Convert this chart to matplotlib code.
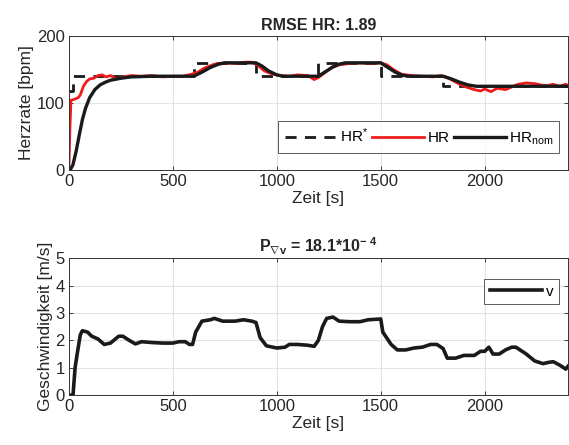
import matplotlib
matplotlib.use("Agg")
import matplotlib.pyplot as plt

# ── data ─────────────────────────────────────────────────────────────────────
# reference heart rate HR* (step levels)
t_ref  = [0, 20, 20, 600, 600, 900, 900, 1200, 1200, 1500, 1500, 1800, 1800, 2400]
hr_ref = [118, 118, 140, 140, 160, 160, 140, 140, 160, 160, 140, 140, 125, 125]

# nominal heart rate HR_nom
t_nom  = [0, 10, 20, 35, 50, 65, 80, 100, 125, 150, 175, 200, 250, 300, 400,
          600, 640, 680, 720, 750, 900, 930, 960, 1000, 1030, 1200, 1230,
          1270, 1300, 1330, 1500, 1530, 1570, 1600, 1630, 1800, 1840, 1880,
          1920, 1960, 2400]
hr_nom = [0, 2, 8, 28, 52, 75, 92, 108, 120, 127, 131, 134, 137, 139, 140,
          140, 146, 153, 158, 160, 160, 155, 148, 142, 140, 140, 146,
          154, 158, 160, 160, 154, 146, 142, 140, 140, 136, 131,
          127, 125, 125]

# measured heart rate HR
t_hr = [0, 5, 10, 20, 30, 45, 55, 70, 85, 100, 120, 140, 160, 180, 200, 230,
        260, 300, 350, 400, 450, 500, 550, 590, 620, 650, 700, 750, 800, 850,
        880, 910, 940, 980, 1020, 1060, 1100, 1150, 1180, 1200, 1230, 1260,
        1300, 1350, 1400, 1450, 1500, 1530, 1560, 1600, 1650, 1700, 1750,
        1790, 1820, 1850, 1880, 1910, 1950, 1980, 2000, 2030, 2060, 2100,
        2130, 2160, 2200, 2240, 2270, 2300, 2330, 2360, 2390, 2400]
hr   = [0, 60, 104, 105, 106, 108, 112, 125, 132, 136, 137, 141, 142, 139,
        141, 136, 139, 141, 140, 141, 139, 140, 140, 143, 146, 152, 158, 160,
        159, 161, 161, 156, 148, 143, 141, 140, 142, 141, 135, 138, 145, 152,
        157, 159, 160, 159, 160, 157, 150, 143, 141, 140, 139, 141, 138,
        133, 128, 124, 120, 118, 121, 117, 122, 120, 124, 128, 130, 129,
        127, 126, 128, 125, 128, 126]

# running speed v
t_v = [0, 20, 30, 40, 55, 65, 90, 110, 140, 170, 200, 240, 260, 290, 320, 350,
       400, 450, 500, 530, 560, 580, 595, 610, 640, 680, 700, 740, 800, 840,
       880, 900, 920, 950, 1000, 1040, 1060, 1100, 1150, 1180, 1200, 1220,
       1240, 1270, 1300, 1350, 1400, 1440, 1500, 1510, 1550, 1580, 1620,
       1660, 1700, 1740, 1770, 1800, 1820, 1860, 1900, 1950, 1980, 2000,
       2020, 2040, 2070, 2100, 2130, 2150, 2200, 2240, 2280, 2310, 2330,
       2360, 2390, 2400]
v   = [0, 0, 1.0, 1.5, 2.2, 2.35, 2.3, 2.15, 2.05, 1.85, 1.9, 2.15, 2.15,
       2.0, 1.87, 1.95, 1.92, 1.9, 1.9, 1.95, 1.95, 1.85, 1.85, 2.3, 2.7,
       2.75, 2.8, 2.7, 2.7, 2.75, 2.7, 2.65, 2.1, 1.8, 1.72, 1.75, 1.85,
       1.85, 1.82, 1.78, 2.0, 2.5, 2.8, 2.85, 2.7, 2.68, 2.68, 2.75, 2.78,
       2.3, 1.85, 1.65, 1.65, 1.72, 1.75, 1.85, 1.85, 1.7, 1.35, 1.35, 1.45,
       1.45, 1.6, 1.6, 1.75, 1.5, 1.5, 1.65, 1.75, 1.75, 1.5, 1.25, 1.15,
       1.2, 1.22, 1.1, 0.95, 1.05]

x_ticks  = [0, 500, 1000, 1500, 2000]
hr_ticks = [0, 100, 200]
v_ticks  = [0, 1, 2, 3, 4, 5]

# ── style ────────────────────────────────────────────────────────────────────
plt.rcParams["font.family"] = ["Liberation Sans", "DejaVu Sans"]
plt.rcParams["mathtext.fontset"] = "custom"
plt.rcParams["mathtext.rm"] = "Liberation Sans"
plt.rcParams["mathtext.it"] = "Liberation Sans"
plt.rcParams["mathtext.bf"] = "Liberation Sans:bold"

GRID = "#e3e3e3"
TXT  = "#262626"


def style_axes(ax, yticks, ylim):
    ax.set_xlim(0, 2400)
    ax.set_ylim(*ylim)
    ax.set_xticks(x_ticks)
    ax.set_yticks(yticks)
    ax.tick_params(direction="in", top=True, right=True, labelsize=12,
                   colors=TXT, length=3, width=0.6, pad=3)
    ax.grid(True, color=GRID, lw=0.8)
    ax.set_axisbelow(True)
    for s in ax.spines.values():
        s.set_color("#333333"); s.set_linewidth(0.7)
    ax.set_xlabel("Zeit [s]", fontsize=12.5, color=TXT, labelpad=1)


fig = plt.figure(figsize=(5.69, 4.45), dpi=100)
ax1 = fig.add_axes([0.121, 0.618, 0.877, 0.301])
ax2 = fig.add_axes([0.121, 0.112, 0.877, 0.308])

# ── top: heart rate ──────────────────────────────────────────────────────────
l_ref, = ax1.plot(t_ref, hr_ref, color="#1a1a1a", lw=2, ls=(0, (4, 3)))
l_hr,  = ax1.plot(t_hr, hr, color="#ee1c1c", lw=2)
l_nom, = ax1.plot(t_nom, hr_nom, color="#1a1a1a", lw=2.4)
style_axes(ax1, hr_ticks, (0, 200))
ax1.set_ylabel("Herzrate [bpm]", fontsize=12.5, color=TXT, labelpad=2)
ax1.set_title("RMSE HR: 1.89", fontsize=11.5, fontweight="bold", color=TXT,
              pad=4)
leg = ax1.legend([l_ref, l_hr, l_nom], [r"HR$^{*}$", "HR", r"HR$_{\rm nom}$"],
                 ncol=3, loc="lower right", bbox_to_anchor=(0.998, 0.07),
                 fontsize=11, fancybox=False, handlelength=3.4,
                 handletextpad=0.2, columnspacing=0.3, borderpad=0.4)
leg.get_frame().set_edgecolor("#333333"); leg.get_frame().set_linewidth(0.7)

# ── bottom: speed ────────────────────────────────────────────────────────────
l_v, = ax2.plot(t_v, v, color="#1a1a1a", lw=2.6)
style_axes(ax2, v_ticks, (0, 5))
ax2.set_ylabel("Geschwindigkeit [m/s]", fontsize=12.5, color=TXT, labelpad=2)
ax2.set_title(r"$\mathbf{P_{\nabla v}}$ = 18.1*10$^{\mathbf{-\ 4}}$",
              fontsize=11.5, fontweight="bold", color=TXT, pad=4)
leg2 = ax2.legend([l_v], ["v"], loc="upper right", bbox_to_anchor=(0.998, 0.9),
                  fontsize=11, fancybox=False, handlelength=3.4,
                  handletextpad=0.3, borderpad=0.35)
leg2.get_frame().set_edgecolor("#333333"); leg2.get_frame().set_linewidth(0.7)

fig.savefig("out.png", dpi=100)
